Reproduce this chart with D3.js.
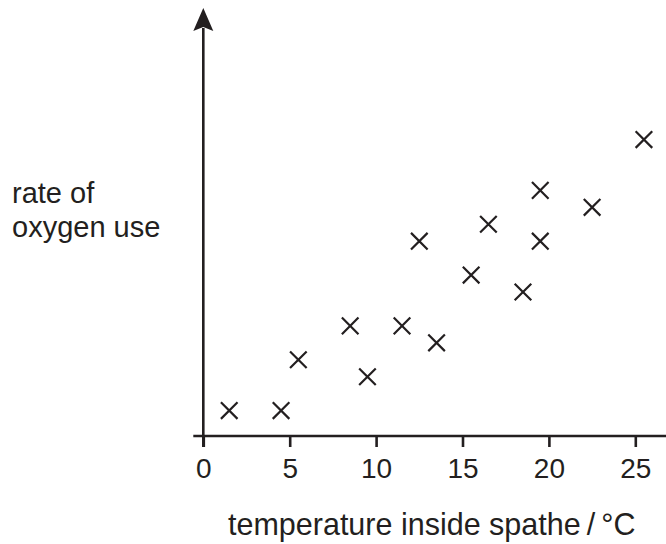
<!DOCTYPE html>
<html>
<head>
<meta charset="utf-8">
<script src="https://cdn.jsdelivr.net/npm/d3@7"></script>
<style>
  body { margin: 0; background: #fff; }
  svg { display: block; font-family: Arial, "Liberation Sans", sans-serif; }
  .tick text { font-size: 28px; fill: #231f20; }
</style>
</head>
<body>
<svg id="chart" width="666" height="544"></svg>
<script>
// temperature inside spathe (deg C) and rate of oxygen use (arbitrary units)
var temps = [1.5, 4.5, 5.5, 8.5, 9.5, 11.5, 13.5, 12.5, 15.5, 16.5, 18.5, 19.5, 19.5, 22.5, 25.5];
var oxygen = [1.5, 1.5, 4.5, 6.5, 3.5, 6.5, 5.5, 11.5, 9.5, 12.5, 8.5, 14.5, 11.5, 13.5, 17.5];
var xTicks = [0, 5, 10, 15, 20, 25];

var ink = '#231f20';
var svg = d3.select('#chart');

var x = d3.scaleLinear().domain([0, 25]).range([203.3, 635.3]);
var y = d3.scaleLinear().domain([0, 25]).range([436, 12.5]);

// x axis
var xAxis = d3.axisBottom(x)
   .tickValues(xTicks)
   .tickSize(11)
   .tickSizeOuter(0)
   .tickPadding(4);

var gx = svg.append('g')
   .attr('transform', 'translate(0,' + y(0) + ')')
   .call(xAxis);
gx.select('.domain').remove();
gx.selectAll('.tick line').attr('stroke', ink).attr('stroke-width', 2.6);
gx.selectAll('.tick text').attr('dy', '0.95em');

svg.append('line')
   .attr('x1', x(0) - 10).attr('x2', 666)
   .attr('y1', y(0)).attr('y2', y(0))
   .attr('stroke', ink).attr('stroke-width', 2.6);

// y axis with arrow head
var tipY = y(25.27);
svg.append('line')
   .attr('x1', x(0)).attr('x2', x(0))
   .attr('y1', y(0) + 11).attr('y2', tipY + 20)
   .attr('stroke', ink).attr('stroke-width', 2.6);

svg.append('path')
   .attr('d', 'M' + x(0) + ',' + tipY +
              ' L' + (x(0) + 10) + ',' + (tipY + 23) +
              ' L' + x(0) + ',' + (tipY + 19) +
              ' L' + (x(0) - 10) + ',' + (tipY + 23) + ' Z')
   .attr('fill', ink);

// crosses
var r = 8.3;
svg.append('g').selectAll('path')
   .data(temps.map(function(t, i){ return {t: t, o: oxygen[i]}; }))
   .enter().append('path')
   .attr('d', function(d){
      var cx = x(d.t), cy = y(d.o);
      return 'M' + (cx - r) + ',' + (cy - r) + ' L' + (cx + r) + ',' + (cy + r) +
             ' M' + (cx - r) + ',' + (cy + r) + ' L' + (cx + r) + ',' + (cy - r);
   })
   .attr('stroke', ink)
   .attr('stroke-width', 2.2)
   .attr('fill', 'none');

// labels
var yLab = svg.append('text')
   .attr('x', 12).attr('y', 203)
   .attr('font-size', 29).attr('fill', ink);
yLab.append('tspan').attr('x', 12).text('rate of');
yLab.append('tspan').attr('x', 12).attr('dy', 34).text('oxygen use');

svg.append('text')
   .attr('x', 228).attr('y', 535)
   .attr('font-size', 30.5).attr('fill', ink)
   .text('temperature inside spathe\u2009/\u2009\u00b0C');
</script>
</body>
</html>
